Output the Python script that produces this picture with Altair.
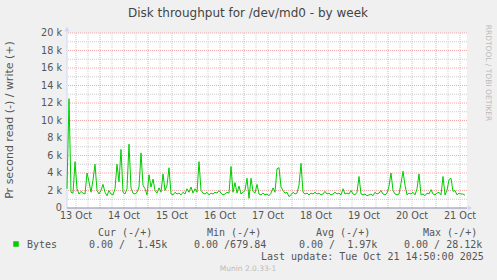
import altair as alt
import pandas as pd

TITLE = "Disk throughput for /dev/md0 - by week"
Y_TITLE = "Pr second read (-) / write (+)"
SIDE_TEXT = "RRDTOOL / TOBI OETIKER"
DAYS = ["13 Oct", "14 Oct", "15 Oct", "16 Oct", "17 Oct", "18 Oct", "19 Oct", "20 Oct", "21 Oct"]
START_HOUR = 7.5     # hours after 13 Oct 00:00
END_HOUR = 207.5
Y_TICKS = [0, 2, 4, 6, 8, 10, 12, 14, 16, 18, 20]
Y_LABELS = ["0", "2 k", "4 k", "6 k", "8 k", "10 k", "12 k", "14 k", "16 k", "18 k", "20 k"]

# hourly write throughput (thousands of bytes per second)
WRITE_K = [
    2.2, 12.5, 1.8, 1.7, 5.3, 2.2, 1.6, 1.9, 1.7, 1.6,
    4.0, 3.0, 1.8, 3.2, 5.0, 2.0, 1.6, 2.0, 2.7, 1.8,
    1.4, 2.0, 1.6, 1.5, 2.2, 5.0, 3.0, 6.7, 1.8, 1.6,
    2.2, 7.3, 2.3, 1.7, 1.6, 1.8, 2.4, 6.3, 2.6, 2.2,
    1.5, 3.8, 2.4, 3.3, 2.0, 1.7, 2.3, 1.8, 3.9, 2.0,
    2.6, 4.6, 1.6, 1.5, 1.8, 1.6, 1.7, 1.5, 1.8, 1.6,
    2.2, 1.8, 2.4, 1.7, 2.2, 1.8, 5.3, 2.0, 1.7, 1.6,
    1.8, 1.5, 1.7, 1.6, 1.8, 1.7, 2.0, 1.7, 1.5, 1.6,
    1.8, 1.7, 4.75, 1.8, 2.9, 1.7, 2.5, 1.6, 1.8, 2.0,
    3.4, 1.1, 3.4, 1.9, 1.7, 2.7, 1.6, 1.5, 1.7, 1.5,
    1.6, 1.4, 1.7, 2.3, 1.8, 4.5, 4.6, 2.4, 2.0, 1.7,
    1.8, 1.3, 1.5, 1.8, 1.6, 1.7, 2.6, 5.1, 1.8, 1.6,
    1.7, 1.5, 1.7, 1.6, 1.8, 1.6, 1.7, 1.5, 1.6, 1.9,
    1.6, 1.7, 1.5, 1.6, 1.8, 1.6, 1.7, 1.5, 2.2, 1.6,
    1.7, 1.6, 2.0, 1.6, 1.5, 1.8, 3.6, 1.6, 1.5, 1.6,
    1.4, 1.5, 1.6, 1.4, 1.8, 1.6, 1.7, 2.0, 1.6, 1.5,
    1.7, 2.5, 4.0, 2.0, 1.6, 1.5, 1.6, 2.8, 4.2, 2.6,
    1.5, 1.7, 1.6, 1.8, 1.5, 2.2, 3.9, 1.5, 1.6, 1.4,
    1.7, 1.6, 2.1, 1.6, 1.5, 1.7, 1.8, 1.5, 3.6, 1.5,
    2.0, 3.25, 3.4, 1.9, 2.0, 1.5, 1.7, 1.6, 1.6, 1.45,
]

LEGEND_NAME = "Bytes"
LEGEND_HEAD = ["Cur (-/+)", "Min (-/+)", "Avg (-/+)", "Max (-/+)"]
LEGEND_VALS = ["0.00 /  1.45k", "0.00 /679.84", "0.00 /  1.97k", "0.00 / 28.12k"]
LAST_UPDATE = "Last update: Tue Oct 21 14:50:00 2025"
VERSION = "Munin 2.0.33-1"

NB = "\u00a0"
FONT = "DejaVu Sans"
MONO = "DejaVu Sans Mono"
TXT = "#555555"
GREEN = "#00CC00"
RED_GRID = "#F0A8A8"
GREY_GRID = "#CCCCCC"
AXIS_COL = "#CFD6F8"

W, H = 400, 175
xs = alt.Scale(domain=[START_HOUR, END_HOUR], nice=False, zero=False)
ys = alt.Scale(domain=[0, 20], nice=False)

line_df = pd.DataFrame({"h": [START_HOUR + i for i in range(len(WRITE_K))], "v": WRITE_K})

minor_v = [h for h in range(12, 208, 6) if h % 24 != 0]
major_v = [h for h in range(24, 208, 24)]
minor_h = [k for k in range(1, 20, 2)]
major_h = [k for k in Y_TICKS if k > 0]


def vrules(vals, color):
    return alt.Chart(pd.DataFrame({"h": vals})).mark_rule(
        color=color, strokeWidth=1, strokeDash=[1, 1]
    ).encode(x=alt.X("h:Q", scale=xs, axis=None))


def hrules(vals, color):
    return alt.Chart(pd.DataFrame({"v": vals})).mark_rule(
        color=color, strokeWidth=1, strokeDash=[1, 1]
    ).encode(y=alt.Y("v:Q", scale=ys, axis=None))


def label(text, x, y, size=10, font=FONT, color=TXT, align="left", angle=0, baseline="middle"):
    return alt.Chart(pd.DataFrame({"t": [text.replace(" ", NB)]})).mark_text(
        font=font, fontSize=size, color=color, align=align, baseline=baseline, angle=angle
    ).encode(x=alt.value(x), y=alt.value(y), text="t:N")


layers = [
    vrules(minor_v, GREY_GRID),
    hrules(minor_h, GREY_GRID),
    vrules(major_v, RED_GRID),
    hrules(major_h, RED_GRID),
    # axes
    alt.Chart(pd.DataFrame({"a": [0]})).mark_rule(color=AXIS_COL, strokeWidth=1).encode(
        x=alt.value(0), y=alt.value(-3), y2=alt.value(H)),
    alt.Chart(pd.DataFrame({"a": [0]})).mark_point(shape="triangle-up", filled=True, size=25,
                                                   color=AXIS_COL, opacity=1).encode(
        x=alt.value(0), y=alt.value(-4)),
    alt.Chart(pd.DataFrame({"a": [0]})).mark_point(shape="triangle-right", filled=True, size=25,
                                                   color=AXIS_COL, opacity=1).encode(
        x=alt.value(403), y=alt.value(H)),
    alt.Chart(pd.DataFrame({"a": [0]})).mark_rule(color="#8A8AAE", strokeWidth=1).encode(
        x=alt.value(0), x2=alt.value(400), y=alt.value(H)),
    # data
    alt.Chart(line_df).mark_line(color=GREEN, strokeWidth=1).encode(
        x=alt.X("h:Q", scale=xs, axis=None), y=alt.Y("v:Q", scale=ys, axis=None)),
    # y tick labels
    alt.Chart(pd.DataFrame({"v": Y_TICKS, "t": Y_LABELS})).mark_text(
        font=FONT, fontSize=9.7, color=TXT, align="right", baseline="middle").encode(
        y=alt.Y("v:Q", scale=ys, axis=None), x=alt.value(-5), text="t:N"),
    # x tick labels
    alt.Chart(pd.DataFrame({"h": [12 + 24 * i for i in range(len(DAYS))], "t": DAYS})).mark_text(
        font=FONT, fontSize=9.7, color=TXT, align="center", baseline="middle").encode(
        x=alt.X("h:Q", scale=xs, axis=None), y=alt.value(H + 8), text="t:N"),
    # titles
    label(TITLE, 181, -20, size=12, color="#444444", align="center"),
    label(Y_TITLE, -57, 87, size=11, align="center", angle=270),
    label(SIDE_TEXT, 421, 40, size=7.5, color="#BBBBBB", align="center", angle=90),
    # legend
    alt.Chart(pd.DataFrame({"a": [0]})).mark_square(color=GREEN, size=30, opacity=1).encode(
        x=alt.value(-51), y=alt.value(211)),
    label(LEGEND_NAME, -40, 212, font=MONO),
]
head_x = [31, 140, 249, 356]
val_x = [22, 127, 232, 337]
for t, x in zip(LEGEND_HEAD, head_x):
    layers.append(label(t, x, 200, font=MONO))
for t, x in zip(LEGEND_VALS, val_x):
    layers.append(label(t, x, 212, font=MONO))
layers.append(label(LAST_UPDATE, 194, 224, font=MONO))
layers.append(label(VERSION, 181, 236, size=7.5, color="#BBBBBB", align="center"))

chart = alt.layer(*layers).properties(
    width=W, height=H,
    autosize=alt.AutoSizeParams(type="none"),
    padding={"left": 67, "top": 33, "right": 30, "bottom": 72},
    background="#F0F0F0",
).configure_view(stroke=None, fill="#FFFFFF")

chart.save("out.html", embed_options={"renderer": "svg", "actions": False})
